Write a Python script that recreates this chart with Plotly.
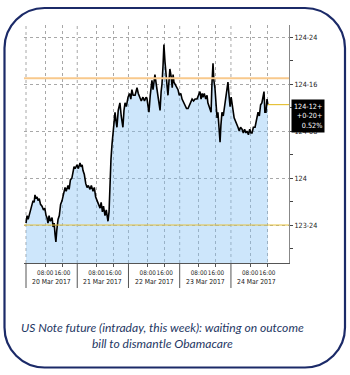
import plotly.graph_objects as go

# ---------------- data ----------------
hours = [-1, -0.5, 0, 0.9, 1.5, 2.3, 2.8, 3.2, 3.7, 4.2, 4.6, 5.2, 5.8, 6.5, 7.2, 7.8, 8.4, 8.8, 9.3, 9.8,
         10.4, 11.2, 11.7, 12.2, 12.6, 13.0, 13.4, 14.0, 14.6, 15.2, 15.9, 16.5, 17.3, 17.8, 18.7, 19.2, 19.8,
         20.5, 21.0, 21.5, 22.0, 22.9,
         23.5, 24.3, 24.8, 25.3, 25.7, 26.3, 27.0, 27.6, 28.2, 29.0, 29.6, 30.4, 31.0, 31.6, 32.3, 33.0, 33.7,
         34.2, 34.8, 35.3, 36.0, 36.6, 37.4, 37.9, 38.3, 38.8, 39.3, 39.7, 40.2, 40.7, 41.2, 41.6, 42.2, 43.0,
         43.6, 44.4, 44.9, 45.4, 46.0, 46.8,
         47.5, 48.1, 48.6, 49.2, 50.1, 50.6, 51.0, 51.6, 52.4, 53.0, 53.8, 54.5, 55.2, 55.7, 56.2, 56.6, 57.2,
         58.0, 58.5, 59.0, 59.4, 60.0, 60.4, 61.0, 61.5, 61.8, 62.3, 62.7, 63.2, 63.6, 64.1, 64.6, 65.0, 65.5,
         66.0, 66.4, 67.0, 67.5, 67.9, 68.3, 68.8, 69.5, 70.2, 70.8, 71.5, 72.1, 72.8, 73.5, 74.2, 74.9,
         75.6, 76.2, 76.8, 77.5, 78.2, 79.1, 79.7, 80.5, 81.0, 81.5, 81.9, 82.5, 83.2, 83.8, 84.2, 84.7, 85.2,
         85.7, 86.1, 86.6, 87.0, 87.5, 88.0, 88.5, 88.9, 89.4, 89.9, 90.3, 90.8, 91.4, 92.2, 92.7, 93.2, 93.6,
         94.1, 94.6, 95.1, 95.5, 96.0, 96.5, 96.9, 97.5, 98.3, 98.9, 99.5, 100.2, 100.8, 101.4, 102.0, 102.5,
         103.2, 103.8, 104.4, 104.9, 105.5, 106.3, 106.9, 107.7, 108.3, 108.9, 109.5, 110.0, 110.5, 110.9,
         111.4, 111.9, 112.3]
prices = [123.76, 123.80, 123.78, 123.82, 123.85, 123.88, 123.87, 123.91, 123.89, 123.90, 123.88, 123.89,
          123.86, 123.85, 123.83, 123.84, 123.80, 123.79, 123.76, 123.80, 123.77, 123.79, 123.74, 123.76,
          123.70, 123.66, 123.72, 123.78, 123.80, 123.86, 123.88, 123.92, 123.95, 123.93, 123.96, 123.94,
          123.99, 124.00, 124.03, 124.06, 124.05, 124.07,
          124.05, 124.08, 124.06, 124.07, 124.04, 124.02, 123.97, 123.95, 123.96, 123.94, 123.96, 123.93,
          123.95, 123.90, 123.88, 123.86, 123.84, 123.87, 123.82, 123.85, 123.80, 123.83, 123.77, 123.82,
          124.00, 124.10, 124.18, 124.22, 124.30, 124.35, 124.30, 124.27, 124.36, 124.40, 124.33, 124.27,
          124.36, 124.40, 124.38, 124.43,
          124.45, 124.42, 124.47, 124.44, 124.44, 124.47, 124.48, 124.45, 124.42, 124.41, 124.43, 124.41,
          124.43, 124.42, 124.38, 124.35, 124.44, 124.52, 124.47, 124.52, 124.55, 124.50, 124.47, 124.42,
          124.37, 124.36, 124.46, 124.50, 124.60, 124.71, 124.62, 124.52, 124.50, 124.44, 124.52, 124.58,
          124.54, 124.48, 124.55, 124.51, 124.50, 124.48, 124.47, 124.44, 124.45, 124.42, 124.40, 124.39,
          124.37, 124.37,
          124.39, 124.41, 124.42, 124.41, 124.42, 124.42, 124.44, 124.46, 124.42, 124.45, 124.43, 124.45,
          124.42, 124.44, 124.40, 124.38, 124.36, 124.35, 124.50, 124.61, 124.52, 124.48, 124.40, 124.32,
          124.35, 124.25, 124.19, 124.28, 124.35, 124.33, 124.40, 124.43, 124.46, 124.51, 124.44, 124.38,
          124.43, 124.38, 124.36, 124.32, 124.31, 124.29, 124.27, 124.25, 124.27, 124.26, 124.24, 124.26,
          124.24, 124.25, 124.23, 124.26, 124.24, 124.24, 124.27, 124.27, 124.31, 124.35, 124.33, 124.39,
          124.40, 124.44, 124.46, 124.35, 124.35, 124.42, 124.39]

day_starts = [-1, 23, 47, 71, 95]
day_labels = ["20 Mar 2017", "21 Mar 2017", "22 Mar 2017", "23 Mar 2017", "24 Mar 2017"]
time_ticks = [8, 16, 32, 40, 56, 64, 80, 88, 104, 112]
time_labels = ["08:00", "16:00"] * 5
y_ticks = [123.75, 124.0, 124.25, 124.5, 124.75]
y_labels = ["123-24", "124", "124-08", "124-16", "124-24"]
y_minor = [123.625, 123.875, 124.125, 124.375, 124.625]
orange_level = 124.53125
yellow_level = 123.75
last_price = 124.390625
last_box = ["124-12+", "+0-20+", "0.52%"]
caption = ["US Note future (intraday, this week): waiting on outcome", "bill to dismantle Obamacare"]

# ---------------- layout geometry (pixels) ----------------
W, H = 350, 375
L, R, T, B = 24, 289, 25, 263
X0, X1 = -1.94, 122.2
Y0, Y1 = 123.548, 124.814


def px(x):
    return (x - L) / (R - L)


def py(y):
    return (B - y) / (B - T)


NARROW = "Liberation Sans Narrow, DejaVu Sans Condensed, Arial Narrow, Liberation Sans, sans-serif"

fig = go.Figure()
fig.add_trace(go.Scatter(
    x=hours, y=prices, mode="lines",
    line=dict(color="black", width=1.6),
    fill="tozeroy", fillcolor="rgba(130,192,246,0.40)",
    hoverinfo="skip", showlegend=False,
))

shapes = []
for d in day_starts:
    shapes.append(dict(type="line", xref="x", yref="paper", x0=d, x1=d, y0=0, y1=1,
                       line=dict(color="#a8a8a8", width=1, dash="dot"), layer="below"))
    shapes.append(dict(type="line", xref="x", yref="paper", x0=d, x1=d, y0=0, y1=py(288),
                       line=dict(color="#555555", width=1)))
shapes.append(dict(type="line", xref="paper", yref="y", x0=0, x1=1, y0=orange_level, y1=orange_level,
                   line=dict(color="#f8c98c", width=2)))
shapes.append(dict(type="line", xref="paper", yref="y", x0=0, x1=1, y0=yellow_level, y1=yellow_level,
                   line=dict(color="#e6c23a", width=1)))
shapes.append(dict(type="line", xref="x", yref="y", x0=hours[-1], x1=X1, y0=last_price, y1=last_price,
                   line=dict(color="#e6c23a", width=1.2)))

# rounded border
bx0, bx1, by0, by1, rad = 4.5, 345.0, 8.0, 367.5, 40.0
k = 0.5523 * rad


def P(x, y):
    return f"{px(x):.5f},{py(y):.5f}"


path = (f"M {P(bx0 + rad, by0)} L {P(bx1 - rad, by0)} "
        f"C {P(bx1 - rad + k, by0)} {P(bx1, by0 + rad - k)} {P(bx1, by0 + rad)} "
        f"L {P(bx1, by1 - rad)} "
        f"C {P(bx1, by1 - rad + k)} {P(bx1 - rad + k, by1)} {P(bx1 - rad, by1)} "
        f"L {P(bx0 + rad, by1)} "
        f"C {P(bx0 + rad - k, by1)} {P(bx0, by1 - rad + k)} {P(bx0, by1 - rad)} "
        f"L {P(bx0, by0 + rad)} "
        f"C {P(bx0, by0 + rad - k)} {P(bx0 + rad - k, by0)} {P(bx0 + rad, by0)} Z")
shapes.append(dict(type="path", xref="paper", yref="paper", path=path,
                   line=dict(color="#1b2a68", width=2.2)))

annotations = []
for d, lab in zip(day_starts, day_labels):
    annotations.append(dict(x=d + 12, y=py(282), xref="x", yref="paper", text=lab, showarrow=False,
                            font=dict(family=NARROW, size=6.8, color="#222222"),
                            xanchor="center", yanchor="middle"))
annotations.append(dict(x=1, y=py(98.5), xref="paper", yref="paper", xshift=2,
                        text="<br>".join(last_box), showarrow=False, align="right",
                        xanchor="left", yanchor="top", bgcolor="black", borderpad=2,
                        font=dict(family=NARROW, size=7.2, color="white")))
annotations.append(dict(x=px(162), y=py(335.5), xref="paper", yref="paper",
                        text="<br>".join(caption), showarrow=False, align="center",
                        xanchor="center", yanchor="middle",
                        font=dict(family="Lato, Open Sans, sans-serif", size=12.1, color="#1f3864",
                                  style="italic")))

fig.update_layout(
    width=W, height=H,
    margin=dict(l=L, r=W - R, t=T, b=H - B),
    paper_bgcolor="white", plot_bgcolor="white",
    showlegend=False,
    shapes=shapes, annotations=annotations,
    xaxis=dict(range=[X0, X1], tickvals=time_ticks, ticktext=time_labels, tickangle=0,
               showgrid=True, gridcolor="#a8a8a8", griddash="dot", gridwidth=1,
               showline=True, linecolor="#555555", linewidth=1,
               ticks="outside", ticklen=3, tickcolor="#555555",
               tickfont=dict(family=NARROW, size=6.3, color="#222222"),
               zeroline=False, fixedrange=True),
    yaxis=dict(range=[Y0, Y1], side="right", tickvals=y_ticks, ticktext=y_labels,
               showgrid=True, gridcolor="#a8a8a8", griddash="dot", gridwidth=1,
               showline=True, linecolor="#888888", linewidth=1,
               ticks="outside", ticklen=3, tickcolor="#444444",
               minor=dict(tickvals=y_minor, ticks="outside", ticklen=3, tickcolor="#444444", showgrid=False),
               tickfont=dict(family=NARROW, size=7.2, color="#222222"),
               zeroline=False, fixedrange=True),
)

fig.write_html("out.html")
